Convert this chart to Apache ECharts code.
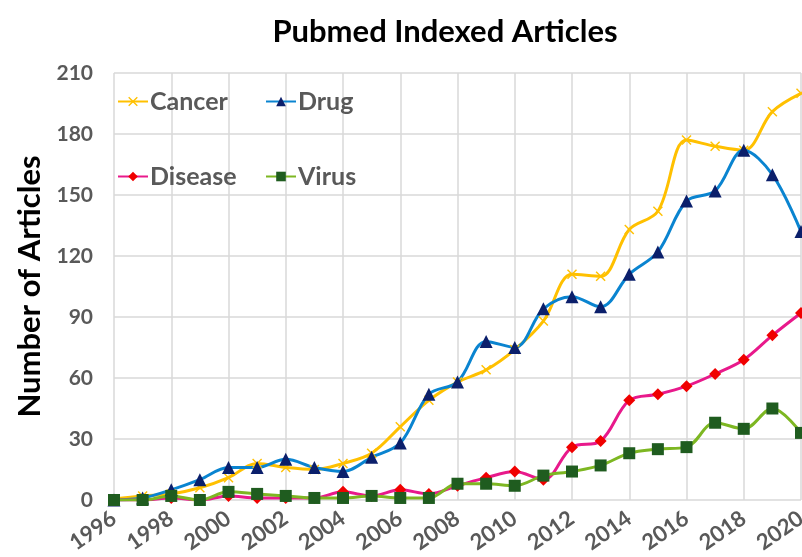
<!DOCTYPE html>
<html><head><meta charset="utf-8">
<script src="https://cdn.jsdelivr.net/npm/echarts@6/dist/echarts.min.js"></script>
<style>html,body{margin:0;padding:0;background:#fff}#c{width:802px;height:557px}</style>
</head><body><div id="c"></div>
<script>
const years = ['1996','1997','1998','1999','2000','2001','2002','2003','2004','2005','2006','2007','2008','2009','2010','2011','2012','2013','2014','2015','2016','2017','2018','2019','2020'];
const cancer  = [0.5,2,3,6,11,18,16,15,18,23,36,49,58,64,74,88,111,110,133,142,177,174,172,191,200];
const drug    = [0,1,5,10,16,16,20,16,14,21,28,52,58,78,75,94,100,95,111,122,147,152,172,160,132];
const disease = [0,0,1,0,2,1,1,1,4,2,5,3,7,11,14,10,26,29,49,52,56,62,69,81,92];
const virus   = [0,0,2,0,4,3,2,1,1,2,1,1,8,8,7,12,14,17,23,25,26,38,35,45,33];
const yTicks  = [0,30,60,90,120,150,180,210];

const FONT = 'Lato';
const crossPath = 'path://M0,1L1,0L5,4L9,0L10,1L6,5L10,9L9,10L5,6L1,10L0,9L4,5Z';

function mk(name, data, lineColor, markColor, symbol, size) {
  return {
    name, type: 'line', data, smooth: 0.35, symbol, symbolSize: size,
    lineStyle: { color: lineColor, width: 3 },
    itemStyle: { color: markColor },
    emphasis: { disabled: true }
  };
}
const legendText = { fontFamily: FONT, fontWeight: 'bold', fontSize: 25, color: '#595959', padding: [0,0,0,-3] };
function lg(name, left, top) {
  return { data: [name], left, top, itemWidth: 30, itemHeight: 12, itemGap: 0, padding: 0,
           textStyle: legendText, selectedMode: false };
}

const chart = echarts.init(document.getElementById('c'));
chart.setOption({
  animation: false,
  title: { text: 'Pubmed Indexed Articles', left: 440, top: 11, textAlign: 'center',
           textStyle: { fontFamily: FONT, fontWeight: 'bold', fontSize: 31, color: '#000' } },
  legend: [ lg('Cancer', 117, 89), lg('Drug', 265, 89), lg('Disease', 117, 164), lg('Virus', 265, 164) ],
  grid: { left: 114, right: 1, top: 73, bottom: 57, containLabel: false, outerBoundsMode: 'none' },
  xAxis: {
    type: 'category', data: years, boundaryGap: false,
    axisLine: { show: false }, axisTick: { show: false },
    axisLabel: { interval: 1, rotate: 35, margin: 16, fontFamily: FONT, fontWeight: 'bold', fontSize: 22, color: '#595959' },
    splitLine: { show: true, interval: 1, lineStyle: { color: '#d9d9d9', width: 1.5 } }
  },
  yAxis: {
    type: 'value', min: yTicks[0], max: yTicks[yTicks.length-1], interval: 30,
    name: 'Number of Articles', nameLocation: 'middle', nameGap: 68,
    nameTextStyle: { fontFamily: FONT, fontWeight: 'bold', fontSize: 31, color: '#000' },
    axisLine: { show: false }, axisTick: { show: false },
    axisLabel: { margin: 21, fontFamily: FONT, fontWeight: 'bold', fontSize: 21, color: '#595959' },
    splitLine: { lineStyle: { color: '#d9d9d9', width: 1.5 } }
  },
  series: [
    mk('Cancer', cancer, '#FFC000', '#FFC000', crossPath, 10),
    mk('Drug', drug, '#0A84D0', '#0B1F6B', 'triangle', 13),
    mk('Disease', disease, '#E8198B', '#F00000', 'diamond', 12),
    mk('Virus', virus, '#7DB722', '#1F5C1F', 'rect', 12)
  ]
});
</script></body></html>
